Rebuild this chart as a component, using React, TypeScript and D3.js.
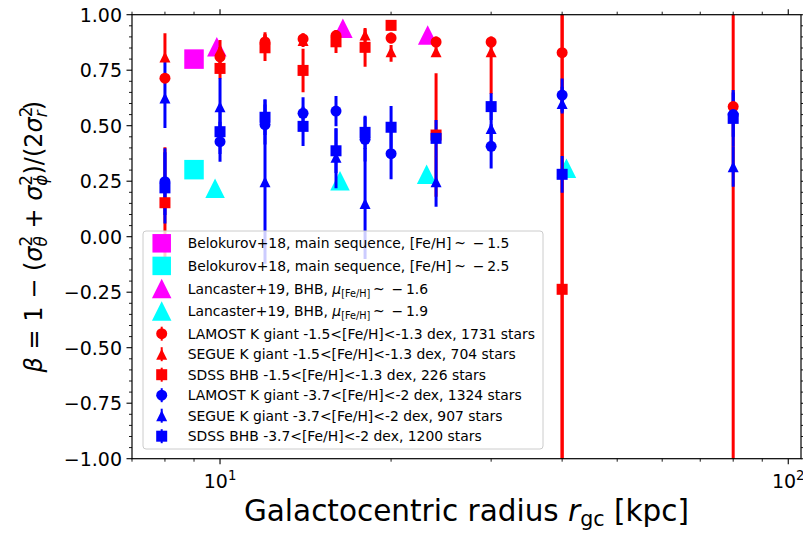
import React from 'react';
import * as d3 from 'd3';

// ---------------- data ----------------
const belokurovR = [9, 9];
const belokurovBeta = [0.8, 0.302];
const belokurovColor = ['#ff00ff', '#00ffff'];

const lancasterRichR = [9.87, 16.45, 23.2];
const lancasterRichBeta = [0.856, 0.939, 0.909];
const lancasterPoorR = [9.8, 16.26, 23.1, 40.7];
const lancasterPoorBeta = [0.218, 0.252, 0.281, 0.308];

// metal-rich (-1.5<[Fe/H]<-1.3)
const lamostRichR = [8, 10, 12, 14, 16, 20, 24, 30, 40, 80];
const lamostRichBeta = [0.714, 0.81, 0.877, 0.891, 0.906, 0.895, 0.877, 0.877, 0.829, 0.586];
const lamostRichErr = [0.02, 0.045, 0.035, 0.025, 0.025, 0.025, 0.025, 0.025, 2.5, 2.5];

const segueRichR = [8, 10, 12, 14, 18, 20, 24, 30];
const segueRichBeta = [0.81, 0.84, 0.891, 0.884, 0.909, 0.833, 0.833, 0.833];
const segueRichErrLo = [0.02, 0.04, 0.05, 0.03, 0.03, 0.045, 0.02, 0.19];
const segueRichErrHi = [0.106, 0.046, 0.03, 0.03, 0.025, 0.03, 0.02, 0.03];

const sdssRichR = [8, 10, 12, 14, 16, 18, 20, 24, 40];
const sdssRichBeta = [0.153, 0.758, 0.851, 0.749, 0.878, 0.853, 0.952, 0.458, -0.237];
const sdssRichErr = [0.25, 0.045, 0.06, 0.098, 0.05, 0.087, 0.02, 0.278, 3];

// metal-poor (-3.7<[Fe/H]<-2)
const lamostPoorR = [8, 10, 12, 14, 16, 18, 20, 30, 40, 80];
const lamostPoorBeta = [0.248, 0.428, 0.505, 0.556, 0.566, 0.439, 0.374, 0.407, 0.638, 0.55];
const lamostPoorErr = [0.15, 0.09, 0.09, 0.072, 0.068, 0.1, 0.115, 0.1, 0.075, 0.1];

const seguePoorR = [8, 10, 12, 16, 18, 24, 30, 40, 80];
const seguePoorBeta = [0.625, 0.585, 0.248, 0.358, 0.149, 0.248, 0.487, 0.6, 0.315];
const seguePoorErrLo = [0.135, 0.13, 0.37, 0.14, 0.25, 0.113, 0.08, 0.045, 0.09];
const seguePoorErrHi = [0.165, 0.13, 0.37, 0.13, 0.25, 0.113, 0.08, 0.075, 0.09];

const sdssPoorR = [8, 10, 12, 14, 16, 18, 20, 24, 30, 40, 80];
const sdssPoorBeta = [0.22, 0.473, 0.538, 0.497, 0.387, 0.47, 0.493, 0.443, 0.586, 0.281, 0.533];
const sdssPoorErr = [0.16, 0.1, 0.08, 0.088, 0.1, 0.075, 0.096, 0.083, 0.06, 0.083, 0.128];

const yTickValues = [-1, -0.75, -0.5, -0.25, 0, 0.25, 0.5, 0.75, 1];
const xMajorTicks = [10, 100];
const xTickExponents = ['1', '2'];

const legendLabelsLamost = [
  'LAMOST K giant -1.5<[Fe/H]<-1.3 dex, 1731 stars',
  'SEGUE K giant -1.5<[Fe/H]<-1.3 dex, 704 stars',
  'SDSS BHB -1.5<[Fe/H]<-1.3 dex, 226 stars',
  'LAMOST K giant -3.7<[Fe/H]<-2 dex, 1324 stars',
  'SEGUE K giant -3.7<[Fe/H]<-2 dex, 907 stars',
  'SDSS BHB -3.7<[Fe/H]<-2 dex, 1200 stars',
];

// ---------------- layout ----------------
const W = 803;
const H = 534;
const L = 132;
const R = 801;
const T = 14.7;
const B = 458.7;
const FONT = 'DejaVu Sans, Verdana, sans-serif';

const RED = '#ff0000';
const BLUE = '#0000ff';

type Shape = 'circle' | 'triangle' | 'square';

function Marker({ shape, cx, cy, size, color }: { shape: Shape; cx: number; cy: number; size: number; color: string }) {
  const h = size / 2;
  if (shape === 'circle') return <circle cx={cx} cy={cy} r={h} fill={color} />;
  if (shape === 'square') return <rect x={cx - h} y={cy - h} width={size} height={size} fill={color} />;
  return <polygon points={`${cx},${cy - h} ${cx - h},${cy + h} ${cx + h},${cy + h}`} fill={color} />;
}

export default function App() {
  const x = d3.scaleLog().domain([7, 105.3]).range([L, R]);
  const y = d3.scaleLinear().domain([-1, 1]).range([B, T]);

  const series = [
    { r: lamostRichR, b: lamostRichBeta, lo: lamostRichErr, hi: lamostRichErr, color: RED, shape: 'circle' as Shape },
    { r: segueRichR, b: segueRichBeta, lo: segueRichErrLo, hi: segueRichErrHi, color: RED, shape: 'triangle' as Shape },
    { r: sdssRichR, b: sdssRichBeta, lo: sdssRichErr, hi: sdssRichErr, color: RED, shape: 'square' as Shape },
    { r: lamostPoorR, b: lamostPoorBeta, lo: lamostPoorErr, hi: lamostPoorErr, color: BLUE, shape: 'circle' as Shape },
    { r: seguePoorR, b: seguePoorBeta, lo: seguePoorErrLo, hi: seguePoorErrHi, color: BLUE, shape: 'triangle' as Shape },
    { r: sdssPoorR, b: sdssPoorBeta, lo: sdssPoorErr, hi: sdssPoorErr, color: BLUE, shape: 'square' as Shape },
  ];

  const yMinor = d3.range(-20, 21).map((i) => i * 0.05).filter((v) => Math.abs(v * 4 - Math.round(v * 4)) > 1e-6);
  const xMinor: number[] = [];
  [1, 10, 100].forEach((d) => d3.range(2, 10).forEach((k) => {
    const v = k * d;
    if (v >= 7 && v <= 105.3) xMinor.push(v);
  }));

  const MAJ = 5.5;
  const MIN = 3;

  // legend
  const legX = 143;
  const legY = 231;
  const legW = 400;
  const legH = 218;
  const mx = 161.7;
  const tx = 187.7;
  const rowY = (i: number) => 243.3 + 22.6 * Math.min(i, 4) + 20.5 * Math.max(0, i - 4);
  const legendSmall = series.map((s, i) => ({ ...s, label: legendLabelsLamost[i] }));

  const YF = 24;
  const YS = YF * 0.7;
  const supW = YS * 0.636;

  return (
    <svg width={W} height={H} style={{ position: 'absolute', left: 0, top: 0, background: '#fff' }} fontFamily={FONT}>
      <defs>
        <clipPath id="plotclip">
          <rect x={L} y={T} width={R - L} height={B - T} />
        </clipPath>
      </defs>
      <rect x={0} y={0} width={W} height={H} fill="#fff" />

      <g clipPath="url(#plotclip)">
        {/* reference literature points */}
        {belokurovR.map((r, i) => (
          <Marker key={'bk' + i} shape="square" cx={x(r)} cy={y(belokurovBeta[i])} size={19.5} color={belokurovColor[i]} />
        ))}
        {lancasterRichR.map((r, i) => (
          <Marker key={'lr' + i} shape="triangle" cx={x(r)} cy={y(lancasterRichBeta[i])} size={19.5} color="#ff00ff" />
        ))}
        {lancasterPoorR.map((r, i) => (
          <Marker key={'lp' + i} shape="triangle" cx={x(r)} cy={y(lancasterPoorBeta[i])} size={19.5} color="#00ffff" />
        ))}
        {/* error bars */}
        {series.map((s, si) => s.r.map((r, i) => (
          <line key={`e${si}-${i}`} x1={x(r)} x2={x(r)} y1={y(s.b[i] - s.lo[i])} y2={y(s.b[i] + s.hi[i])} stroke={s.color} strokeWidth={3} />
        )))}
        {/* markers */}
        {series.map((s, si) => s.r.map((r, i) => (
          <Marker key={`m${si}-${i}`} shape={s.shape} cx={x(r)} cy={y(s.b[i])} size={11} color={s.color} />
        )))}
      </g>

      {/* frame */}
      <rect x={L} y={T} width={R - L} height={B - T} fill="none" stroke="#000" strokeWidth={1.2} />

      {/* y ticks */}
      {yTickValues.map((v) => (
        <g key={'yt' + v}>
          <line x1={L - MAJ} x2={L} y1={y(v)} y2={y(v)} stroke="#000" strokeWidth={1.1} />
          <line x1={R} x2={R + MAJ} y1={y(v)} y2={y(v)} stroke="#000" strokeWidth={1.1} />
          <text x={L - MAJ - 4.5} y={y(v)} dy="0.36em" textAnchor="end" fontSize={19}>
            {d3.format('.2f')(v).replace('-', '\u2212')}
          </text>
        </g>
      ))}
      {yMinor.map((v) => (
        <g key={'ym' + v}>
          <line x1={L - MIN} x2={L} y1={y(v)} y2={y(v)} stroke="#000" strokeWidth={0.9} />
          <line x1={R} x2={R + MIN} y1={y(v)} y2={y(v)} stroke="#000" strokeWidth={0.9} />
        </g>
      ))}

      {/* x ticks */}
      {xMajorTicks.map((v, i) => (
        <g key={'xt' + v}>
          <line x1={x(v)} x2={x(v)} y1={B} y2={B + MAJ} stroke="#000" strokeWidth={1.1} />
          <line x1={x(v)} x2={x(v)} y1={T - MAJ} y2={T} stroke="#000" strokeWidth={1.1} />
          <text x={x(v)} y={488} textAnchor="middle" fontSize={19}>
            10<tspan fontSize={13.3} dy={-8}>{xTickExponents[i]}</tspan>
          </text>
        </g>
      ))}
      {xMinor.map((v) => (
        <g key={'xm' + v}>
          <line x1={x(v)} x2={x(v)} y1={B} y2={B + MIN} stroke="#000" strokeWidth={0.9} />
          <line x1={x(v)} x2={x(v)} y1={T - MIN} y2={T} stroke="#000" strokeWidth={0.9} />
        </g>
      ))}

      {/* axis labels */}
      <text x={(L + R) / 2} y={521} textAnchor="middle" fontSize={29.5}>
        {'Galactocentric radius '}
        <tspan fontStyle="italic">r</tspan>
        <tspan fontSize={20.6} dy={5}>gc</tspan>
        <tspan dy={-5}>{' [kpc]'}</tspan>
      </text>
      <text transform={`translate(42,${(T + B) / 2}) rotate(-90)`} textAnchor="middle" fontSize={YF}>
        <tspan fontStyle="italic">β</tspan>
        <tspan>{' = 1 \u2212 ('}</tspan>
        <tspan fontStyle="italic">σ</tspan>
        <tspan fontSize={YS} dy={-10}>2</tspan>
        <tspan fontSize={YS} fontStyle="italic" dx={-supW} dy={15}>θ</tspan>
        <tspan dy={-5}>{' + '}</tspan>
        <tspan fontStyle="italic">σ</tspan>
        <tspan fontSize={YS} dy={-10}>2</tspan>
        <tspan fontSize={YS} fontStyle="italic" dx={-supW} dy={15}>ϕ</tspan>
        <tspan dy={-5}>{')/(2'}</tspan>
        <tspan fontStyle="italic">σ</tspan>
        <tspan fontSize={YS} dy={-10}>2</tspan>
        <tspan fontSize={YS} fontStyle="italic" dx={-supW} dy={15}>r</tspan>
        <tspan dy={-5}>{')'}</tspan>
      </text>

      {/* legend */}
      <g>
        <rect x={legX} y={legY} width={legW} height={legH} rx={3} ry={3} fill="#fff" fillOpacity={0.8} stroke="#cccccc" strokeWidth={1} />
        <Marker shape="square" cx={mx} cy={rowY(0)} size={18.5} color="#ff00ff" />
        <Marker shape="square" cx={mx} cy={rowY(1)} size={18.5} color="#00ffff" />
        <Marker shape="triangle" cx={mx} cy={rowY(2)} size={19.5} color="#ff00ff" />
        <Marker shape="triangle" cx={mx} cy={rowY(3)} size={19.5} color="#00ffff" />
        <g fontSize={13.9}>
          <text x={tx} y={rowY(0)} dy="0.36em">
            {'Belokurov+18, main sequence, [Fe/H]\u2009~\u2002\u2212\u20091.5'}
          </text>
          <text x={tx} y={rowY(1)} dy="0.36em">
            {'Belokurov+18, main sequence, [Fe/H]\u2009~\u2002\u2212\u20092.5'}
          </text>
          <text x={tx} y={rowY(2) + 5}>
            {'Lancaster+19, BHB, '}
            <tspan fontStyle="italic">μ</tspan>
            <tspan fontSize={9.7} dy={3}>[Fe/H]</tspan>
            <tspan dy={-3}>{'\u2009~\u2002\u2212\u20091.6'}</tspan>
          </text>
          <text x={tx} y={rowY(3) + 5}>
            {'Lancaster+19, BHB, '}
            <tspan fontStyle="italic">μ</tspan>
            <tspan fontSize={9.7} dy={3}>[Fe/H]</tspan>
            <tspan dy={-3}>{'\u2009~\u2002\u2212\u20091.9'}</tspan>
          </text>
          {legendSmall.map((s, i) => (
            <g key={'lg' + i}>
              <line x1={mx} x2={mx} y1={rowY(i + 4) - 7} y2={rowY(i + 4) + 7} stroke={s.color} strokeWidth={2} />
              <Marker shape={s.shape} cx={mx} cy={rowY(i + 4)} size={11} color={s.color} />
              <text x={tx} y={rowY(i + 4)} dy="0.36em">{s.label}</text>
            </g>
          ))}
        </g>
      </g>
    </svg>
  );
}
